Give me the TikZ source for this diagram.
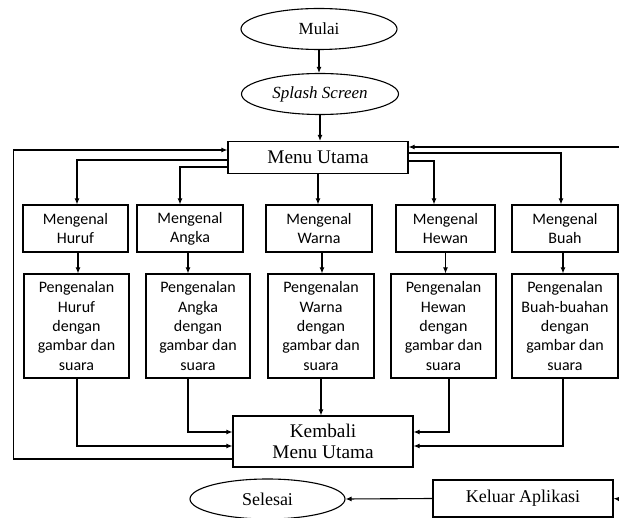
\documentclass[tikz,border=0pt]{standalone}
\usepackage{fontspec}
\setmainfont{Liberation Serif}
\newfontfamily\carlito{Carlito}
\usetikzlibrary{shapes.geometric,arrows.meta}
\begin{document}
\begin{tikzpicture}[x=1pt,y=-1pt,
	oval/.style={draw,ellipse,line width=1.1pt,inner sep=0pt,font=\fontsize{17}{20}\selectfont},
	kotak/.style={draw,line width=1.1pt,align=center,inner sep=0pt,font=\fontsize{19.3}{20.5}\selectfont},
	kecil/.style={kotak,font=\carlito\fontsize{16}{19.3}\selectfont},
	panah/.style={-{Latex[length=6pt,width=5pt]},line width=1.1pt}]
	\useasboundingbox (0,0) rectangle (619,518);
	\path
	(619,147) coordinate (kanan1)
	(619,499) coordinate (kanan2)
	;
	\node[oval,minimum width=156pt,minimum height=41pt] (mulai) at (319,29) {Mulai};
	\node[oval,minimum width=157pt,minimum height=41pt] (splash) at (320,94) {\textit{Splash Screen}};
	\node[kotak,minimum width=180pt,minimum height=32pt] (menu) at (318,157.5) {Menu Utama};
	\foreach \n/\x/\w/\t in {huruf/75.5/105/Huruf,angka/190/106/Angka,warna/319/106/Warna,hewan/445.5/99/Hewan,buah/565/106/Buah}
	\node[kecil,minimum width=\w pt,minimum height=47pt] (\n) at (\x,228.5) {Mengenal\\\t};
	\foreach \n/\x/\w/\t in {phuruf/76.5/105/Huruf,pangka/198/104/Angka,pwarna/321/106/Warna,phewan/443.5/105/Hewan,pbuah/565/106/Buah-buahan}
	\node[kecil,minimum width=\w pt,minimum height=104pt] (\n) at (\x,326) {Pengenalan\\\t\\dengan\\gambar dan\\suara};
	\node[kotak,minimum width=180pt,minimum height=51pt] (kembali) at (323,441.5) {Kembali\\Menu Utama};
	\node[oval,minimum width=155pt,minimum height=40pt,font=\fontsize{18}{20}\selectfont] (selesai) at (267.5,499) {Selesai};
	\node[kotak,minimum width=180pt,minimum height=37pt,font=\fontsize{18}{20}\selectfont] (keluar) at (523,498.5) {Keluar Aplikasi};
	% alur utama
	\draw[panah] (mulai.south) -- (mulai.south |- splash.north);
	\draw[panah] (splash.south) -- (splash.south |- menu.north);
	\draw[panah] (menu.south) -- (menu.south |- warna.north);
	\draw[panah] ([yshift=-2.5pt]menu.west) -| ([xshift=1.5pt]huruf.north);
	\draw[panah] ([yshift=-9.5pt]menu.west) -| ([xshift=-10pt]angka.north);
	\draw[panah] ([yshift=-3.5pt]menu.east) -| ([xshift=-11.5pt]hewan.north);
	\draw[panah] ([yshift=4.5pt]menu.east) -| ([xshift=-4pt]buah.north);
	\foreach \a/\b/\d in {huruf/phuruf/2.5,angka/pangka/-2,warna/pwarna/3,hewan/phewan/0,buah/pbuah/-2}
	\draw[panah] ([xshift=\d pt]\a.south) -- ([xshift=\d pt]\a.south |- \b.north);
	% kembali
	\draw[panah] ([xshift=0.5pt]phuruf.south) |- ([yshift=-4.5pt]kembali.west);
	\draw[panah] ([xshift=-10pt]pangka.south) |- ([yshift=9.5pt]kembali.west);
	\draw[panah] (pwarna.south) -- (pwarna.south |- kembali.north);
	\draw[panah] ([xshift=5.5pt]phewan.south) |- ([yshift=9.5pt]kembali.east);
	\draw[panah] ([xshift=-2pt]pbuah.south) |- ([yshift=-4.5pt]kembali.east);
	\draw[panah] ([yshift=-17.5pt]kembali.west) -- ++(-219,0) |- ([yshift=7.5pt]menu.west);
	% keluar
	\draw[panah] (kanan1) -- (kanan1 -| menu.east);
	\draw[panah] (kanan2) -- (keluar.east);
	\draw[panah] (keluar.west) -- (selesai.east);
\end{tikzpicture}
\end{document}
